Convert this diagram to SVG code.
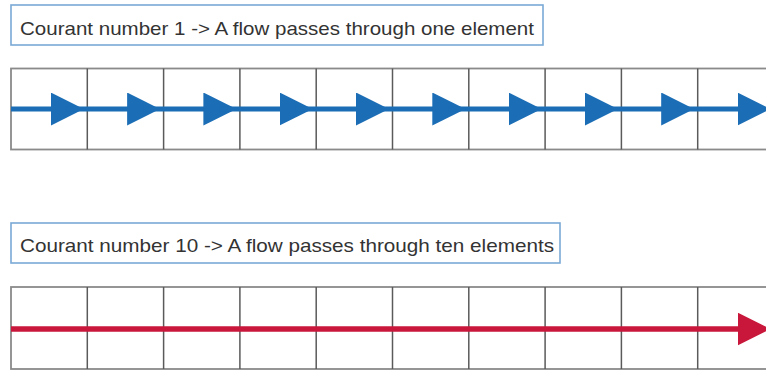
<svg xmlns="http://www.w3.org/2000/svg" width="766" height="371" viewBox="0 0 766 371">
  <style>
    .title rect { fill: #ffffff; stroke: #7aa9d6; stroke-width: 1.6; }
    .title text { font-family: "Liberation Sans", Arial, sans-serif; font-size: 19px; fill: #333333; }
    .grid .outer { fill: #ffffff; stroke: #8a8a8a; stroke-width: 1.8; }
    .grid line { stroke: #5a5a5a; stroke-width: 1.5; }
    .flow-blue { fill: none; stroke: #1b6db5; stroke-width: 5; }
    .flow-red { fill: none; stroke: #c8173a; stroke-width: 5.5; }
  </style>
  <defs>
    <marker id="ahBlue" markerUnits="userSpaceOnUse" markerWidth="33" markerHeight="33" viewBox="0 0 33 33" refX="16" refY="16.5" orient="auto">
      <path d="M0,0 L33,16.5 L0,33 Z" fill="#1b6db5"/>
    </marker>
    <marker id="ahRed" markerUnits="userSpaceOnUse" markerWidth="33" markerHeight="33" viewBox="0 0 33 33" refX="16" refY="16.5" orient="auto">
      <path d="M0,0 L33,16.5 L0,33 Z" fill="#c8173a"/>
    </marker>
  </defs>

  <g id="title1" class="title">
    <rect x="11" y="5" width="532" height="40"/>
    <text x="20" y="35" textLength="514" lengthAdjust="spacingAndGlyphs">Courant number 1 -&gt; A flow passes through one element</text>
  </g>

  <g id="grid1" class="grid">
    <rect class="outer" x="11" y="68.5" width="780" height="81"/>
    <line x1="87.3" y1="68.5" x2="87.3" y2="149.5"/>
    <line x1="163.6" y1="68.5" x2="163.6" y2="149.5"/>
    <line x1="239.9" y1="68.5" x2="239.9" y2="149.5"/>
    <line x1="316.2" y1="68.5" x2="316.2" y2="149.5"/>
    <line x1="392.5" y1="68.5" x2="392.5" y2="149.5"/>
    <line x1="468.8" y1="68.5" x2="468.8" y2="149.5"/>
    <line x1="545.1" y1="68.5" x2="545.1" y2="149.5"/>
    <line x1="621.4" y1="68.5" x2="621.4" y2="149.5"/>
    <line x1="697.7" y1="68.5" x2="697.7" y2="149.5"/>
  </g>

  <g id="title2" class="title">
    <rect x="11" y="223" width="549" height="40"/>
    <text x="20" y="252" textLength="534" lengthAdjust="spacingAndGlyphs">Courant number 10 -&gt; A flow passes through ten elements</text>
  </g>

  <g id="grid2" class="grid">
    <rect class="outer" x="11" y="287" width="780" height="82"/>
    <line x1="87.3" y1="287" x2="87.3" y2="369"/>
    <line x1="163.6" y1="287" x2="163.6" y2="369"/>
    <line x1="239.9" y1="287" x2="239.9" y2="369"/>
    <line x1="316.2" y1="287" x2="316.2" y2="369"/>
    <line x1="392.5" y1="287" x2="392.5" y2="369"/>
    <line x1="468.8" y1="287" x2="468.8" y2="369"/>
    <line x1="545.1" y1="287" x2="545.1" y2="369"/>
    <line x1="621.4" y1="287" x2="621.4" y2="369"/>
    <line x1="697.7" y1="287" x2="697.7" y2="369"/>
  </g>

  <g id="connectors">
    <path class="flow-blue" d="M11,109 H66.8" marker-end="url(#ahBlue)"/>
    <path class="flow-blue" d="M66.8,109 H143.1" marker-end="url(#ahBlue)"/>
    <path class="flow-blue" d="M143.1,109 H219.4" marker-end="url(#ahBlue)"/>
    <path class="flow-blue" d="M219.4,109 H295.7" marker-end="url(#ahBlue)"/>
    <path class="flow-blue" d="M295.7,109 H372" marker-end="url(#ahBlue)"/>
    <path class="flow-blue" d="M372,109 H448.3" marker-end="url(#ahBlue)"/>
    <path class="flow-blue" d="M448.3,109 H524.6" marker-end="url(#ahBlue)"/>
    <path class="flow-blue" d="M524.6,109 H600.9" marker-end="url(#ahBlue)"/>
    <path class="flow-blue" d="M600.9,109 H677.2" marker-end="url(#ahBlue)"/>
    <path class="flow-blue" d="M677.2,109 H753.5" marker-end="url(#ahBlue)"/>
    <path class="flow-red" d="M11,329 H753.5" marker-end="url(#ahRed)"/>
  </g>
</svg>
